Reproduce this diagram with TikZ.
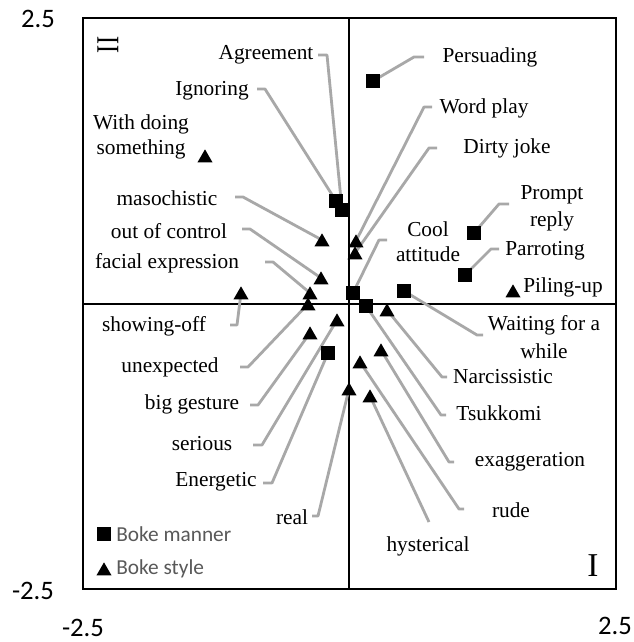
\documentclass[tikz,border=0pt]{standalone}
\usepackage{fontspec}
\setmainfont{Liberation Serif}
\newfontfamily\axfont{Carlito}
\usetikzlibrary{shapes.geometric}
\definecolor{leadgray}{RGB}{168,168,168}
\definecolor{leggray}{RGB}{89,89,89}
\begin{document}
\begin{tikzpicture}[x=0.75pt,y=-0.75pt,
  lbl/.style={inner sep=0pt, font=\fontsize{16}{19}\selectfont, align=center},
  axl/.style={inner sep=0pt, font=\axfont\fontsize{20}{24}\selectfont},
  legtxt/.style={inner sep=0pt, anchor=west, text=leggray, font=\axfont\fontsize{16}{19}\selectfont},
  sq/.style={fill=black, rectangle, minimum size=10.2pt, inner sep=0pt},
  tri/.style={fill=black, regular polygon, regular polygon sides=3, minimum size=13pt, inner sep=0pt, yshift=-1.5pt},
  lead/.style={draw=leadgray, line width=2.1pt, line join=round},
  frm/.style={line width=1.5pt}]
\useasboundingbox (0,0) rectangle (634,642);
\fill[white] (0,0) rectangle (634,642);

% frame and axes
\draw[frm] (83,18) rectangle (616,589);
\draw[frm] (349,18) -- (349,589);
\draw[frm] (83,304) -- (616,304);

% axis labels
\node[axl] (ytop) at (38,19) {2.5};
\node[axl] (ybot) at (33,591) {-2.5};
\node[axl] (xleft) at (83,628) {-2.5};
\node[axl] (xright) at (615,626) {2.5};

% quadrant numerals
\node[inner sep=0pt, rotate=90, font=\fontsize{24}{28}\selectfont] (q2) at (108,45) {\scalebox{0.76}[1]{II}};
\node[inner sep=0pt, font=\fontsize{25}{30}\selectfont] (q1) at (593,566) {I};

% marker coordinates
\coordinate (mPersuading) at (373,81);
\coordinate (mIgnoring) at (336,201);
\coordinate (mAgreement) at (342,210);
\coordinate (mPrompt) at (474,233);
\coordinate (mParroting) at (465,275);
\coordinate (mCool) at (353,293);
\coordinate (mWaiting) at (404,291);
\coordinate (mTsukkomi) at (366,306);
\coordinate (mEnergetic) at (328,353);
\coordinate (mWithdoing) at (205,156);
\coordinate (mMasochistic) at (322,240);
\coordinate (mWordplay) at (356,241);
\coordinate (mDirty) at (355,253);
\coordinate (mOutofcontrol) at (321,278);
\coordinate (mFacial) at (310,293);
\coordinate (mShowing) at (241,293);
\coordinate (mUnexpected) at (308,304);
\coordinate (mPiling) at (513,291);
\coordinate (mNarcissistic) at (387,310);
\coordinate (mSerious) at (337,320);
\coordinate (mBiggesture) at (310,333);
\coordinate (mExaggeration) at (381,350);
\coordinate (mRude) at (360,362);
\coordinate (mReal) at (349,389);
\coordinate (mHysterical) at (370,396);

% leader line ends (label side) and elbows
\coordinate (aPersuading) at (424,57);   \coordinate (bPersuading) at (414,57);
\coordinate (aWordplay) at (432,107);    \coordinate (bWordplay) at (424,107);
\coordinate (aDirty) at (437,148);       \coordinate (bDirty) at (429,148);
\coordinate (aPrompt) at (509,204);      \coordinate (bPrompt) at (499,204);
\coordinate (aParroting) at (499,249);   \coordinate (bParroting) at (491,249);
\coordinate (aCool) at (387,240);        \coordinate (bCool) at (379,240);
\coordinate (aWaiting) at (483,335);     \coordinate (bWaiting) at (477,335);
\coordinate (aNarcissistic) at (447,377);\coordinate (bNarcissistic) at (442,377);
\coordinate (aTsukkomi) at (446,415);    \coordinate (bTsukkomi) at (441,415);
\coordinate (aExaggeration) at (454,462);\coordinate (bExaggeration) at (449,462);
\coordinate (aRude) at (464,509);        \coordinate (bRude) at (459,509);
\coordinate (aHysterical) at (429,522);
\coordinate (aReal) at (312,516);        \coordinate (bReal) at (318,516);
\coordinate (aAgreement) at (318,55);    \coordinate (bAgreement) at (327,55);
\coordinate (aIgnoring) at (257,89);     \coordinate (bIgnoring) at (265,89);
\coordinate (aMasochistic) at (235,197); \coordinate (bMasochistic) at (243,197);
\coordinate (aOutofcontrol) at (242,229);\coordinate (bOutofcontrol) at (250,229);
\coordinate (aFacial) at (265,262);      \coordinate (bFacial) at (273,262);
\coordinate (aShowing) at (230,325);     \coordinate (bShowing) at (237,325);
\coordinate (aUnexpected) at (240,367);  \coordinate (bUnexpected) at (248,367);
\coordinate (aBiggesture) at (250,405);  \coordinate (bBiggesture) at (258,405);
\coordinate (aSerious) at (253,445);     \coordinate (bSerious) at (262,445);
\coordinate (aEnergetic) at (263,483);   \coordinate (bEnergetic) at (272,483);

% leader lines
\draw[lead] (aPersuading) -- (bPersuading) -- (mPersuading);
\draw[lead] (aWordplay) -- (bWordplay) -- (mWordplay);
\draw[lead] (aDirty) -- (bDirty) -- (mDirty);
\draw[lead] (aPrompt) -- (bPrompt) -- (mPrompt);
\draw[lead] (aParroting) -- (bParroting) -- (mParroting);
\draw[lead] (aCool) -- (bCool) -- (mCool);
\draw[lead] (aWaiting) -- (bWaiting) -- (mWaiting);
\draw[lead] (aNarcissistic) -- (bNarcissistic) -- (mNarcissistic);
\draw[lead] (aTsukkomi) -- (bTsukkomi) -- (mTsukkomi);
\draw[lead] (aExaggeration) -- (bExaggeration) -- (mExaggeration);
\draw[lead] (aRude) -- (bRude) -- (mRude);
\draw[lead] (aHysterical) -- (mHysterical);
\draw[lead] (aReal) -- (bReal) -- (mReal);
\draw[lead] (aAgreement) -- (bAgreement) -- (mAgreement);
\draw[lead] (aIgnoring) -- (bIgnoring) -- (mIgnoring);
\draw[lead] (aMasochistic) -- (bMasochistic) -- (mMasochistic);
\draw[lead] (aOutofcontrol) -- (bOutofcontrol) -- (mOutofcontrol);
\draw[lead] (aFacial) -- (bFacial) -- (mFacial);
\draw[lead] (aShowing) -- (bShowing) -- (mShowing);
\draw[lead] (aUnexpected) -- (bUnexpected) -- (mUnexpected);
\draw[lead] (aBiggesture) -- (bBiggesture) -- (mBiggesture);
\draw[lead] (aSerious) -- (bSerious) -- (mSerious);
\draw[lead] (aEnergetic) -- (bEnergetic) -- (mEnergetic);

% markers: Boke manner (squares)
\foreach \m in {Persuading,Ignoring,Agreement,Prompt,Parroting,Cool,Waiting,Tsukkomi,Energetic}
  \node[sq] (s\m) at (m\m) {};
% markers: Boke style (triangles)
\foreach \m in {Withdoing,Masochistic,Wordplay,Dirty,Outofcontrol,Facial,Showing,Unexpected,Piling,Narcissistic,Serious,Biggesture,Exaggeration,Rude,Real,Hysterical}
  \node[tri] (t\m) at (m\m) {};

% labels
\node[lbl] (lAgreement) at (266,55) {Agreement};
\node[lbl] (lPersuading) at (490,57) {Persuading};
\node[lbl] (lIgnoring) at (212,91) {Ignoring};
\node[lbl] (lWordplay) at (484,108) {Word play};
\node[lbl, font=\fontsize{16}{18.5}\selectfont] (lWithdoing) at (141,137) {With doing\\something};
\node[lbl] (lDirty) at (507,148) {Dirty joke};
\node[lbl] (lMasochistic) at (167,198) {masochistic};
\node[lbl, font=\fontsize{16}{20}\selectfont] (lPrompt) at (552,208) {Prompt\\reply};
\node[lbl] (lOutofcontrol) at (169,231) {out of control};
\node[lbl, font=\fontsize{16}{18.75}\selectfont] (lCool) at (428,242) {Cool\\attitude};
\node[lbl] (lParroting) at (545,251) {Parroting};
\node[lbl] (lFacial) at (167,263) {facial expression};
\node[lbl] (lPiling) at (563,287) {Piling-up};
\node[lbl] (lShowing) at (154,326) {showing-off};
\node[lbl, font=\fontsize{16}{20.5}\selectfont] (lWaiting) at (544,337) {Waiting for a\\while};
\node[lbl] (lUnexpected) at (170,367) {unexpected};
\node[lbl] (lNarcissistic) at (503,377) {Narcissistic};
\node[lbl] (lBiggesture) at (192,404) {big gesture};
\node[lbl] (lTsukkomi) at (499,413) {Tsukkomi};
\node[lbl] (lSerious) at (202,444) {serious};
\node[lbl] (lExaggeration) at (530,462) {exaggeration};
\node[lbl] (lEnergetic) at (216,482) {Energetic};
\node[lbl] (lRude) at (511,510) {rude};
\node[lbl] (lReal) at (292,517) {real};
\node[lbl] (lHysterical) at (428,546) {hysterical};

% legend
\node[sq] (legsq) at (104,534) {};
\node[legtxt] (legsqtxt) at (116,534) {Boke manner};
\node[tri] (legtri) at (104,569) {};
\node[legtxt] (legtritxt) at (116,569) {Boke style};
\end{tikzpicture}
\end{document}
